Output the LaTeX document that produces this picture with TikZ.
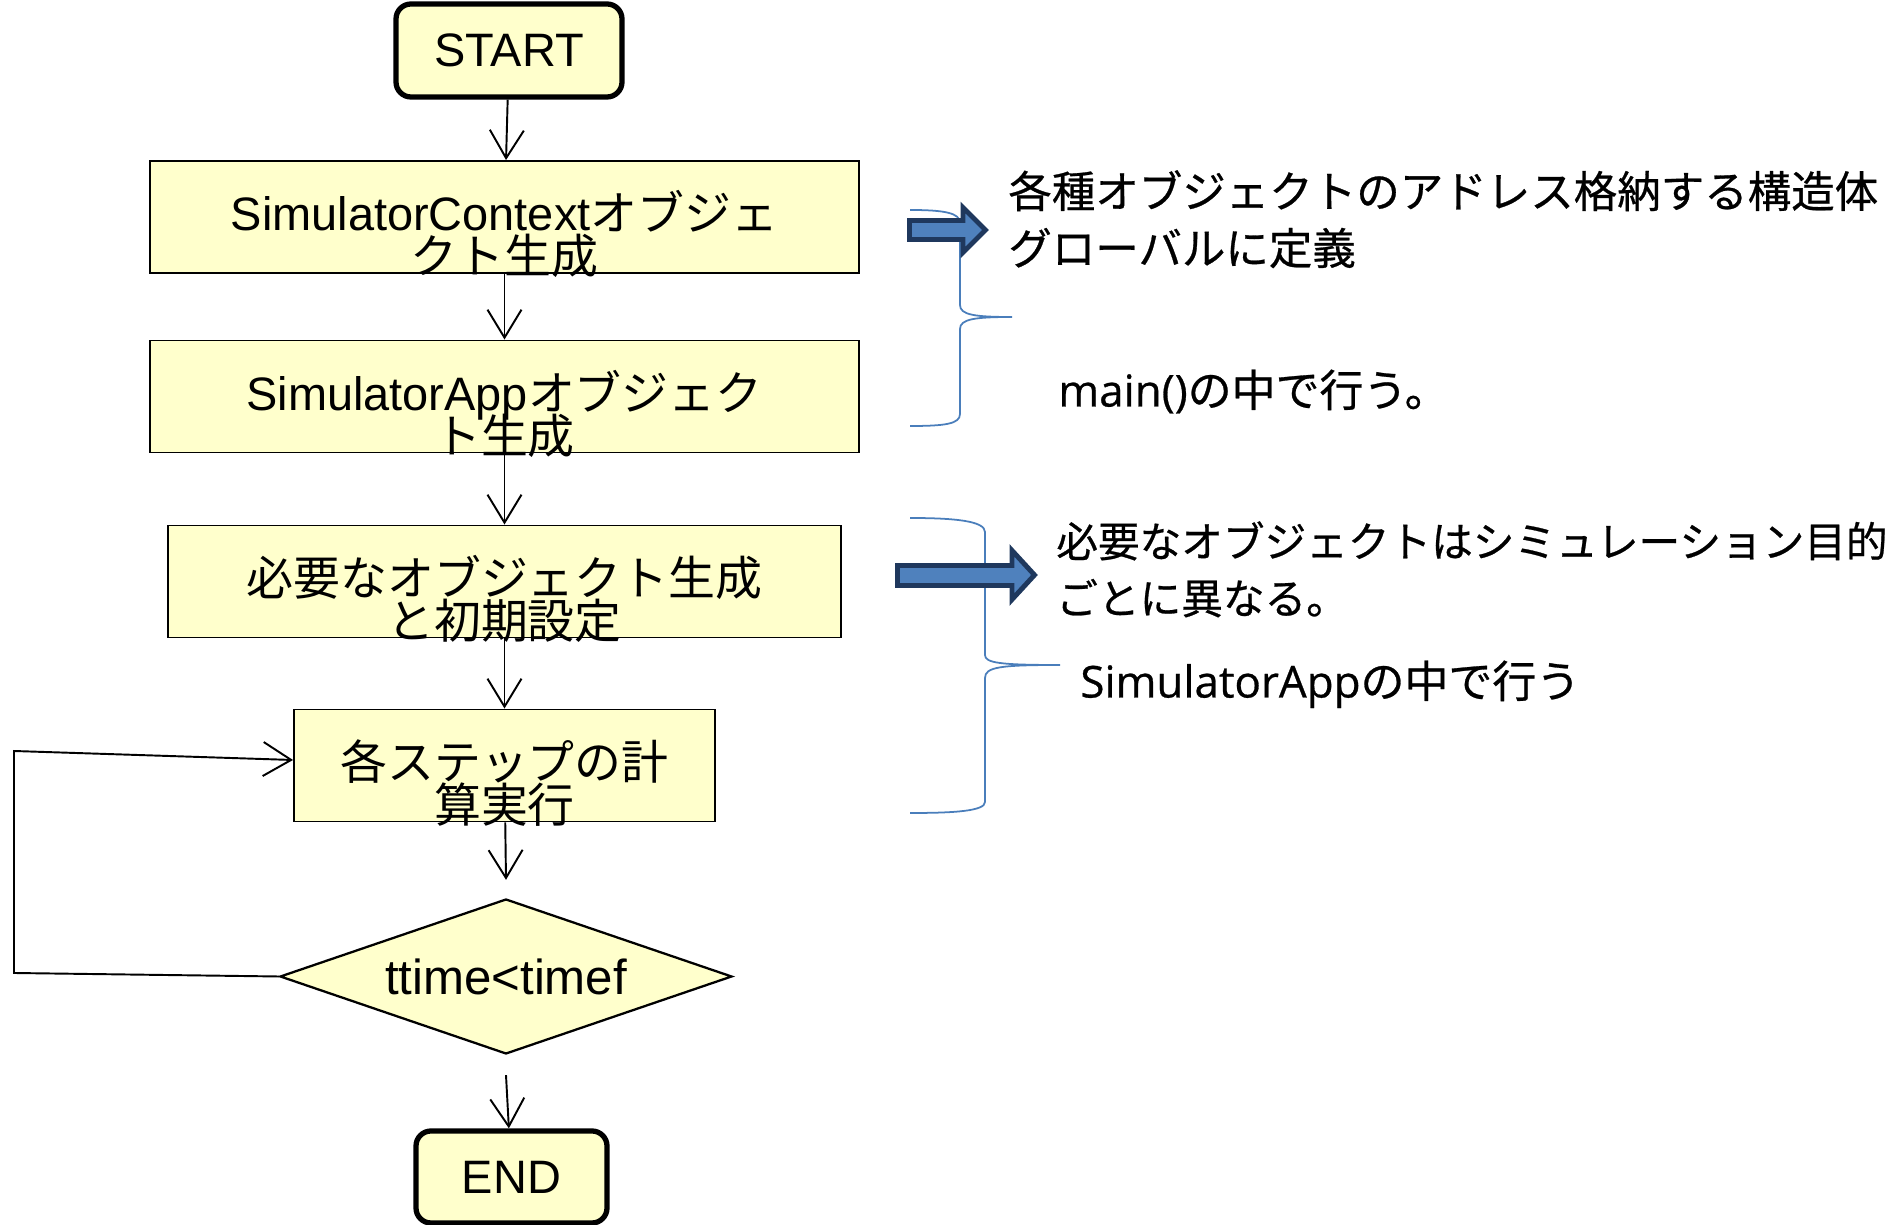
\documentclass[tikz,border=0pt]{standalone}
\usepackage{fontspec}
\setmainfont{Liberation Sans}
\newfontfamily\jpfont{Noto Sans CJK JP}
\newfontfamily\jpnote[FakeBold=0.6]{Noto Sans CJK JP}
\newfontfamily\osfont[FakeBold=0.6]{Open Sans}
\usetikzlibrary{arrows.meta,shapes.geometric}

\definecolor{boxfill}{RGB}{255,255,204}
\definecolor{bracecol}{RGB}{74,126,187}
\definecolor{fatfill}{RGB}{79,129,189}
\definecolor{fatline}{RGB}{31,56,93}

\tikzset{
  flow/.style={-{Straight Barb[length=0.56cm,width=0.68cm]}, line width=1.1pt},
  terminal/.style={draw, line width=3pt, rounded corners=0.3cm, fill=boxfill,
    inner sep=0, font=\fontsize{26.7pt}{30pt}\selectfont},
  process/.style={draw, line width=1.1pt, fill=boxfill, minimum height=2.24cm, inner sep=0},
  boxtext/.style={anchor=base, align=center, inner sep=0,
    font=\fontsize{26.7pt}{24.5pt}\selectfont},
  decision/.style={draw, diamond, aspect=2.9, line width=1.3pt, fill=boxfill,
    minimum width=9.04cm, minimum height=3.1cm, inner sep=0,
    font=\fontsize{28pt}{32pt}\selectfont},
  brace/.style={bracecol, line width=1pt},
  fatarrow/.style={draw=fatline, fill=fatfill, line width=2.8pt, line join=miter},
  note/.style={anchor=base west, align=left, inner sep=0}
}

\begin{document}
\setlength{\lineskiplimit}{-50pt}
\begin{tikzpicture}
  \useasboundingbox (0,0) rectangle (38.06,24.5);

  % flow chart
  \node[terminal, minimum width=4.52cm, minimum height=1.86cm] (start) at (10.18,23.49) {START};
  \node[process, minimum width=14.18cm] (ctx) at (10.09,20.16) {};
  \node[process, minimum width=14.18cm] (app) at (10.09,16.57) {};
  \node[process, minimum width=13.46cm] (init) at (10.09,12.87) {};
  \node[process, minimum width=8.42cm] (step) at (10.09,9.19) {};
  \node[decision] (cond) at (10.12,4.97) {ttime<timef};
  \node[terminal, minimum width=3.82cm, minimum height=1.84cm] (end) at (10.23,0.96) {END};

  % arrows
  \draw[flow] (start) -- (ctx);
  \draw[flow] (ctx) -- (app);
  \draw[flow] (app) -- (init);
  \draw[flow] (init) -- (step);
  \draw[flow] (step) -- ([yshift=0.36cm]cond.north);
  \draw[flow] ([yshift=-0.4cm]cond.south) -- (end);

  % loop back
  \coordinate (loopb) at (0.28,5.04);
  \coordinate (loopt) at (0.28,9.48);
  \draw[flow] (cond.west) -- (loopb) -- (loopt) -- ([yshift=0.11cm]step.west);

  % box labels (base = last line)
  \node[boxtext] (ctx-t) at ([yshift=-1.14cm]ctx.center) {SimulatorContext{\jpfont オブジェ}\\{\jpfont クト生成}};
  \node[boxtext] (app-t) at ([yshift=-1.14cm]app.center) {SimulatorApp{\jpfont オブジェク}\\{\jpfont ト生成}};
  \node[boxtext] (init-t) at ([yshift=-1.14cm]init.center) {{\jpfont 必要なオブジェクト生成}\\{\jpfont と初期設定}};
  \node[boxtext] (step-t) at ([yshift=-1.14cm]step.center) {{\jpfont 各ステップの計}\\{\jpfont 算実行}};

  % braces
  \draw[brace] (18.2,20.3) .. controls (18.9,20.3) and (19.2,20.24) .. (19.2,20.04)
    -- (19.2,18.4) .. controls (19.2,18.2) and (19.5,18.16) .. (20.24,18.16)
    .. controls (19.5,18.16) and (19.2,18.12) .. (19.2,17.92)
    -- (19.2,16.22) .. controls (19.2,16.02) and (18.9,15.98) .. (18.2,15.98);
  \draw[brace] (18.2,14.14) .. controls (19.1,14.14) and (19.7,14.08) .. (19.7,13.86)
    -- (19.7,11.4) .. controls (19.7,11.24) and (20.0,11.2) .. (21.2,11.2)
    .. controls (20.0,11.2) and (19.7,11.16) .. (19.7,10.94)
    -- (19.7,8.46) .. controls (19.7,8.28) and (19.1,8.24) .. (18.2,8.24);

  % block arrows
  \draw[fatarrow] (18.19,20.09) -- (19.26,20.09) -- (19.26,20.35) -- (19.71,19.9)
    -- (19.26,19.45) -- (19.26,19.71) -- (18.19,19.71) -- cycle;
  \draw[fatarrow] (17.95,13.19) -- (20.24,13.19) -- (20.24,13.49) -- (20.69,13.0)
    -- (20.24,12.51) -- (20.24,12.79) -- (17.95,12.79) -- cycle;

  % notes
  \node[note, font=\fontsize{24.75pt}{32.4pt}\selectfont] (glob) at (20.16,19.21)
    {{\jpnote 各種オブジェクトのアドレス格納する構造体}\\{\jpnote グローバルに定義}};
  \node[note, font=\fontsize{25pt}{32.4pt}\selectfont] (inmain) at (21.16,16.37)
    {{\osfont main()}{\jpnote の中で行う。}};
  \node[note, font=\fontsize{23.7pt}{32.4pt}\selectfont] (objs) at (21.12,12.22)
    {{\jpnote 必要なオブジェクトはシミュレーション目的}\\{\jpnote ごとに異なる。}};
  \node[note, font=\fontsize{25pt}{32.4pt}\selectfont] (inapp) at (21.6,10.55)
    {{\osfont SimulatorApp}{\jpnote の中で行う}};
\end{tikzpicture}
\end{document}
